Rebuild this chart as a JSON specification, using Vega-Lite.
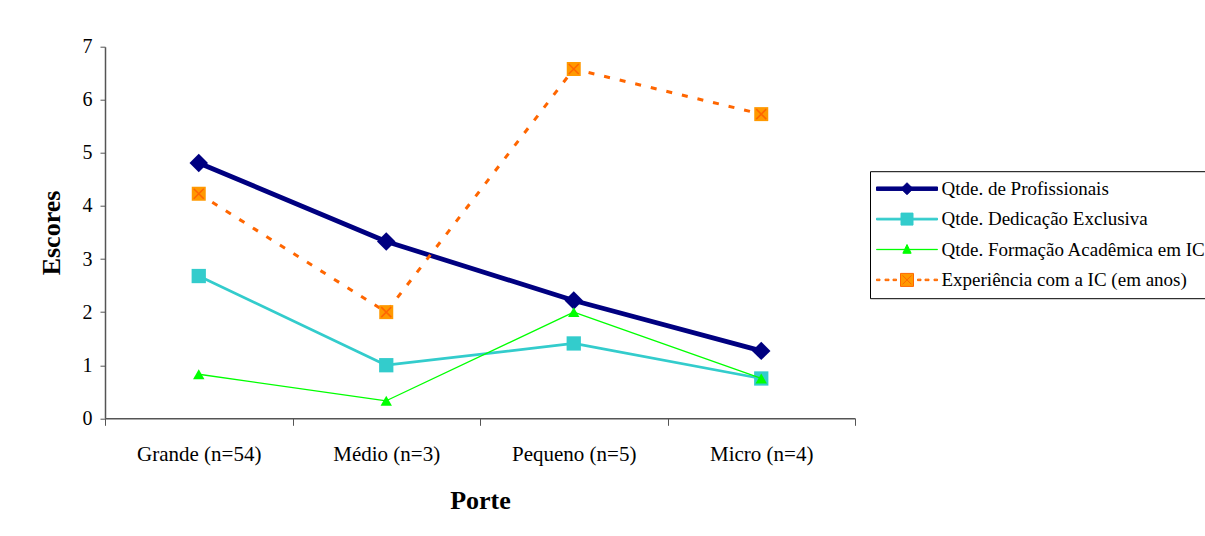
{
  "$schema": "https://vega.github.io/schema/vega-lite/v6.json",
  "autosize": {"type": "none"},
  "width": 750,
  "height": 371.6,
  "padding": {"left": 105, "top": 46.7, "right": 350, "bottom": 117.7},
  "background": "#ffffff",
  "config": {
    "view": {"stroke": null},
    "font": "Liberation Serif",
    "legend": {"labelFont": "Liberation Serif", "labelFontSize": 19},
    "axis": {
      "labelFont": "Liberation Serif",
      "titleFont": "Liberation Serif",
      "labelColor": "#000000",
      "titleColor": "#000000",
      "domainColor": "#555555",
      "tickColor": "#555555",
      "grid": false
    }
  },
  "data": {
    "values": [
      {"porte": "Grande (n=54)", "serie": "Qtde. de Profissionais", "valor": 4.81},
      {"porte": "Médio (n=3)", "serie": "Qtde. de Profissionais", "valor": 3.33},
      {"porte": "Pequeno (n=5)", "serie": "Qtde. de Profissionais", "valor": 2.22},
      {"porte": "Micro (n=4)", "serie": "Qtde. de Profissionais", "valor": 1.27},
      {"porte": "Grande (n=54)", "serie": "Qtde. Dedicação Exclusiva", "valor": 2.68},
      {"porte": "Médio (n=3)", "serie": "Qtde. Dedicação Exclusiva", "valor": 1.0},
      {"porte": "Pequeno (n=5)", "serie": "Qtde. Dedicação Exclusiva", "valor": 1.41},
      {"porte": "Micro (n=4)", "serie": "Qtde. Dedicação Exclusiva", "valor": 0.75},
      {"porte": "Grande (n=54)", "serie": "Qtde. Formação Acadêmica em IC", "valor": 0.83},
      {"porte": "Médio (n=3)", "serie": "Qtde. Formação Acadêmica em IC", "valor": 0.33},
      {"porte": "Pequeno (n=5)", "serie": "Qtde. Formação Acadêmica em IC", "valor": 2.0},
      {"porte": "Micro (n=4)", "serie": "Qtde. Formação Acadêmica em IC", "valor": 0.75},
      {"porte": "Grande (n=54)", "serie": "Experiência com a IC (em anos)", "valor": 4.23},
      {"porte": "Médio (n=3)", "serie": "Experiência com a IC (em anos)", "valor": 2.0},
      {"porte": "Pequeno (n=5)", "serie": "Experiência com a IC (em anos)", "valor": 6.58},
      {"porte": "Micro (n=4)", "serie": "Experiência com a IC (em anos)", "valor": 5.73}
    ]
  },
  "encoding": {
    "x": {
      "field": "porte",
      "type": "ordinal",
      "bandPosition": 0.5,
      "sort": ["Grande (n=54)", "Médio (n=3)", "Pequeno (n=5)", "Micro (n=4)"],
      "scale": {"type": "band", "paddingInner": 0, "paddingOuter": 0},
      "axis": {
        "title": "Porte",
        "titleFontSize": 26,
        "titleFontWeight": "bold",
        "titlePadding": 23,
        "labelFontSize": 21,
        "labelAngle": 0,
        "labelPadding": 18,
        "tickBand": "extent",
        "tickSize": 7,
        "domainWidth": 1.5
      }
    },
    "y": {
      "field": "valor",
      "type": "quantitative",
      "scale": {"domain": [0, 7], "nice": false, "zero": true},
      "axis": {
        "title": "Escores",
        "titleFontSize": 26,
        "titleFontWeight": "bold",
        "titlePadding": 18,
        "labelFontSize": 20,
        "labelPadding": 8,
        "values": [0, 1, 2, 3, 4, 5, 6, 7],
        "tickSize": 5,
        "domainWidth": 1.5
      }
    }
  },
  "layer": [
    {
      "transform": [{"filter": "datum.serie === 'Qtde. de Profissionais'"}],
      "mark": {"type": "line", "strokeWidth": 4.75, "strokeJoin": "round"},
      "encoding": {
        "color": {
          "field": "serie",
          "type": "nominal",
          "scale": {
            "domain": ["Qtde. de Profissionais", "Qtde. Dedicação Exclusiva", "Qtde. Formação Acadêmica em IC", "Experiência com a IC (em anos)"],
            "range": ["#000080", "#33CCCC", "#00FF00", "#FF6600"]
          },
          "legend": {
            "title": null,
            "orient": "none",
            "legendX": 765,
            "legendY": 124.5,
            "strokeColor": "#000000",
            "padding": 8,
            "symbolSize": 100,
            "symbolStrokeWidth": 1,
            "symbolOffset": 19.5,
            "labelOffset": 25,
            "labelFont": "Liberation Serif",
            "labelFontSize": 19,
            "labelColor": "#000000",
            "labelLimit": 400,
            "rowPadding": 10.4,
            "encode": {
              "symbols": {
                "update": {
                  "shape": {"signal": "['M-6.1,-0.35H6.1V0.35H-6.1ZM0,-1.2L1.2,0L0,1.2L-1.2,0Z','M-6.1,-0.175H6.1V0.175H-6.1ZM-1.2,-1.2H1.2V1.2H-1.2Z','M-6.1,-0.03H6.1V0.03H-6.1ZM0,-1L0.83,0.75L-0.83,0.75Z','M-6.1,-0.15H-5.4V0.15H-6.1ZM-4.4,-0.15H-3.6V0.15H-4.4ZM-2.8,-0.15H-2.1V0.15H-2.8ZM2.1,-0.15H2.8V0.15H2.1ZM3.6,-0.15H4.4V0.15H3.6ZM5.4,-0.15H6.1V0.15H5.4ZM-1.3,-1.3H1.3V1.3H-1.3ZM-0.9,-0.9L0.9,0.9M0.9,-0.9L-0.9,0.9'][indexof(['Qtde. de Profissionais','Qtde. Dedicação Exclusiva','Qtde. Formação Acadêmica em IC','Experiência com a IC (em anos)'], datum.value)]"},
                  "fill": {"signal": "['#000080','#33CCCC','#00FF00','#FF9900'][indexof(['Qtde. de Profissionais','Qtde. Dedicação Exclusiva','Qtde. Formação Acadêmica em IC','Experiência com a IC (em anos)'], datum.value)]"},
                  "stroke": {"signal": "['#000080','#33CCCC','#00FF00','#FF6600'][indexof(['Qtde. de Profissionais','Qtde. Dedicação Exclusiva','Qtde. Formação Acadêmica em IC','Experiência com a IC (em anos)'], datum.value)]"},
                  "strokeWidth": {"value": 1},
                  "strokeDash": {"value": []},
                  "opacity": {"value": 1},
                  "fillOpacity": {"value": 1},
                  "strokeOpacity": {"value": 1}
                }
              }
            }
          }
        }
      }
    },
    {
      "transform": [{"filter": "datum.serie === 'Qtde. de Profissionais'"}],
      "mark": {"type": "point", "shape": "diamond", "size": 340, "filled": true, "fill": "#000080", "strokeWidth": 0, "opacity": 1}
    },
    {
      "transform": [{"filter": "datum.serie === 'Qtde. Dedicação Exclusiva'"}],
      "mark": {"type": "line", "strokeWidth": 2.75, "strokeJoin": "round"},
      "encoding": {"color": {"field": "serie", "type": "nominal"}}
    },
    {
      "transform": [{"filter": "datum.serie === 'Qtde. Dedicação Exclusiva'"}],
      "mark": {"type": "point", "shape": "square", "size": 204, "filled": true, "fill": "#33CCCC", "strokeWidth": 0, "opacity": 1}
    },
    {
      "transform": [{"filter": "datum.serie === 'Qtde. Formação Acadêmica em IC'"}],
      "mark": {"type": "line", "strokeWidth": 1.3, "strokeJoin": "round"},
      "encoding": {"color": {"field": "serie", "type": "nominal"}}
    },
    {
      "transform": [{"filter": "datum.serie === 'Qtde. Formação Acadêmica em IC'"}],
      "mark": {"type": "point", "shape": "triangle-up", "size": 130, "filled": true, "fill": "#00FF00", "strokeWidth": 0, "opacity": 1}
    },
    {
      "transform": [{"filter": "datum.serie === 'Experiência com a IC (em anos)'"}],
      "mark": {"type": "line", "strokeWidth": 3, "strokeDash": [6, 10]},
      "encoding": {"color": {"field": "serie", "type": "nominal"}}
    },
    {
      "transform": [{"filter": "datum.serie === 'Experiência com a IC (em anos)'"}],
      "mark": {"type": "point", "shape": "square", "size": 196, "filled": true, "fill": "#FF9900", "strokeWidth": 0, "opacity": 1}
    },
    {
      "transform": [{"filter": "datum.serie === 'Experiência com a IC (em anos)'"}],
      "mark": {
        "type": "point",
        "filled": false,
        "shape": "M-1,-1L1,1M1,-1L-1,1",
        "size": 100,
        "stroke": "#FF6600",
        "strokeWidth": 1.5,
        "opacity": 1
      }
    }
  ]
}
